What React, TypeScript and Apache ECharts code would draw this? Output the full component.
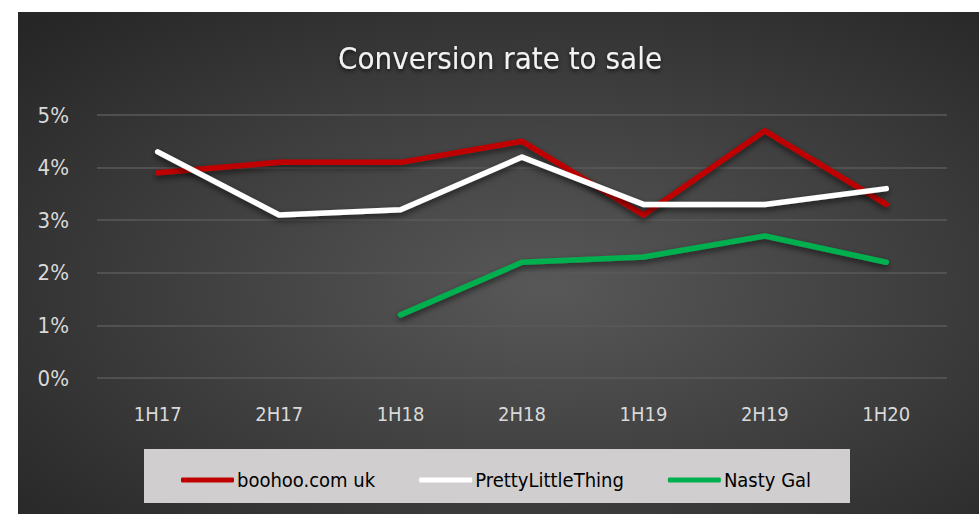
import React, { useEffect, useRef } from "react";
import * as echarts from "echarts";

const categories = ["1H17", "2H17", "1H18", "2H18", "1H19", "2H19", "1H20"];
const boohoo = [3.9, 4.1, 4.1, 4.5, 3.1, 4.7, 3.3];
const prettyLittleThing = [4.3, 3.1, 3.2, 4.2, 3.3, 3.3, 3.6];
const nastyGal = [null, null, 1.2, 2.2, 2.3, 2.7, 2.2];
const seriesNames = ["boohoo.com uk", "PrettyLittleThing", "Nasty Gal"];
const seriesColors = ["#c00000", "#ffffff", "#00b050"];

const FONT = "'DejaVu Sans Condensed', sans-serif";

export default function App() {
  const ref = useRef<HTMLDivElement>(null);
  useEffect(() => {
    if (!ref.current) return;
    const chart = echarts.init(ref.current, undefined, { renderer: "svg" });
    const mk = (name: string, data: (number | null)[], color: string) => ({
      name,
      type: "line",
      data,
      showSymbol: false,
      symbol: "none",
      connectNulls: false,
      lineStyle: {
        color,
        width: 5.5,
        cap: "round",
        join: "round",
        shadowColor: "rgba(0,0,0,0.6)",
        shadowBlur: 6,
        shadowOffsetY: 3,
      },
      itemStyle: { color },
    });
    chart.setOption({
      animation: false,
      textStyle: { fontFamily: FONT },
      graphic: [
        {
          type: "rect",
          z: -10,
          silent: true,
          shape: { x: 18, y: 12, width: 961, height: 502 },
          style: {
            fill: new echarts.graphic.RadialGradient(0.55, 0.55, 0.75, [
              { offset: 0, color: "#585858" },
              { offset: 1, color: "#262626" },
            ]),
          },
        },
        {
          type: "rect",
          z: -5,
          silent: true,
          shape: { x: 144, y: 449, width: 706, height: 54 },
          style: { fill: "#d0cece" },
        },
      ],
      title: {
        text: "Conversion rate to sale",
        left: 495,
        textAlign: "center",
        top: 37,
        textStyle: {
          color: "#f2f2f2",
          fontSize: 31,
          fontWeight: "normal",
          fontFamily: FONT,
          textShadowColor: "rgba(0,0,0,0.7)",
          textShadowBlur: 4,
          textShadowOffsetY: 2,
        },
      },
      legend: {
        left: 176,
        top: 465,
        icon: "roundRect",
        itemWidth: 53,
        itemHeight: 5,
        itemGap: 44,
        data: seriesNames,
        textStyle: { color: "#000000", fontSize: 20, fontFamily: FONT, padding: [0, 0, 0, -2] },
      },
      grid: { left: 97, right: 32, top: 115, bottom: 136, containLabel: false },
      xAxis: {
        type: "category",
        data: categories,
        boundaryGap: true,
        axisLine: { show: false },
        axisTick: { show: false },
        axisLabel: { color: "#d9d9d9", fontSize: 20, margin: 26, fontFamily: FONT },
      },
      yAxis: {
        type: "value",
        min: 0,
        max: 5,
        interval: 1,
        axisLine: { show: false },
        axisTick: { show: false },
        axisLabel: { color: "#d9d9d9", fontSize: 22, margin: 28, formatter: "{value}%", fontFamily: FONT },
        splitLine: { lineStyle: { color: "#5a5a5a", width: 1.5 } },
      },
      series: [
        mk(seriesNames[0], boohoo, seriesColors[0]),
        mk(seriesNames[1], prettyLittleThing, seriesColors[1]),
        mk(seriesNames[2], nastyGal, seriesColors[2]),
      ],
    });
    return () => chart.dispose();
  }, []);
  return (
    <div
      ref={ref}
      style={{ position: "absolute", left: 0, top: 0, width: 979, height: 514, background: "#ffffff" }}
    />
  );
}
